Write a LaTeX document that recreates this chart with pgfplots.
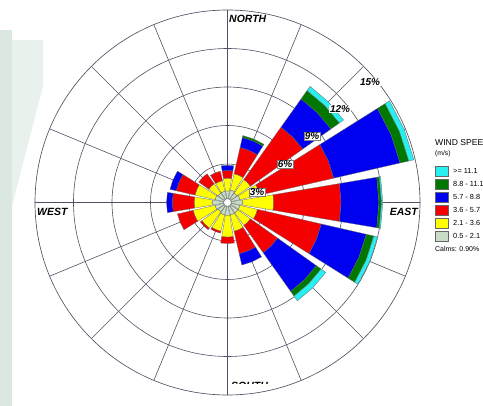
\documentclass[border=0pt]{standalone}
\usepackage{fontspec}
\setmainfont{Liberation Sans}
\usepackage{pgfplots}
\usepackage{pgfplotstable}
\pgfplotsset{compat=1.18}
\usepgfplotslibrary{polar}

\definecolor{cy}{RGB}{40,240,240}
\definecolor{dgr}{RGB}{0,120,0}
\definecolor{bl}{RGB}{0,0,240}
\definecolor{rd}{RGB}{245,0,0}
\definecolor{ylw}{RGB}{255,255,0}
\definecolor{calm}{RGB}{200,220,200}
\definecolor{gridc}{RGB}{80,80,100}
\definecolor{wm}{RGB}{218,232,224}

% cumulative frequency (%) at the outer edge of each speed class
% s1: 0.5-2.1, s2: 2.1-3.6, s3: 3.6-5.7, s4: 5.7-8.8, s5: 8.8-11.1, s6: >=11.1
\pgfplotstableread{
az    s1   s2   s3   s4    s5    s6
0     0.9  1.9  2.5  2.9   2.9   2.9
22.5  1.0  2.3  4.4  5.2   5.35  5.35
45    0.9  2.2  7.2  9.9   10.7  11.1
67.5  1.0  2.6  8.5  13.8  14.5  14.9
90    1.2  3.6  8.85 11.8  12.0  12.1
112.5 1.0  2.4  7.5  11.1  11.7  12.0
135   1.0  2.2  4.8  8.5   8.95  9.4
157.5 1.0  2.3  4.1  5.0   5.0   5.0
180   1.0  2.7  3.2  3.2   3.2   3.2
202.5 1.0  2.3  2.45 2.45  2.45  2.45
225   0.9  2.45 2.6  2.6   2.6   2.6
247.5 1.0  2.75 4.0  4.0   4.0   4.0
270   1.2  2.6  4.3  4.75  4.75  4.75
292.5 1.0  2.6  4.1  4.6   4.6   4.6
315   0.9  1.8  2.75 2.75  2.75  2.75
337.5 0.9  1.75 2.5  2.5   2.5   2.5
}\rose

\newcommand\sector[4]{%
  \pgfmathsetmacro\ta{#1-9.6}%
  \pgfmathsetmacro\tb{#1+9.6}%
  \edef\tmp{\noexpand\addplot[draw=black!60, line width=0.3pt, fill=#4] coordinates {(\ta,#3) (#1,#3) (\tb,#3) (\tb,#2) (#1,#2) (\ta,#2) (\ta,#3)};}%
  \tmp}

\newcommand\band[2]{%
  \pgfplotstablegetelem{\i}{#1}\of\rose
  \let\rout\pgfplotsretval
  \ifdim\rout pt>\rin pt\relax \sector{\th}{\rin}{\rout}{#2}\fi
  \let\rin\rout}

\begin{document}
\begin{tikzpicture}
\useasboundingbox (0,0) rectangle (483bp,406bp);
\fill[wm] (0,0) rectangle (12bp,376bp);
\fill[wm!60] (12bp,366bp) -- (43bp,366bp) -- (43bp,320bp) -- (12bp,200bp) -- cycle;

\begin{polaraxis}[
  at={(227.5bp,203.5bp)}, anchor=center,
  scale only axis, width=385bp, height=385bp,
  xmin=0, xmax=360, ymin=0, ymax=15,
  xtick={0,22.5,...,337.5}, ytick={3,6,9,12},
  xticklabels={}, yticklabels={},
  grid=major, major tick length=0pt,
  grid style={draw=gridc, line width=0.6pt},
  axis line style={draw=gridc, line width=0.65pt},
]
\pgfplotsforeachungrouped \i in {0,...,15}{%
  \pgfplotstablegetelem{\i}{az}\of\rose
  \pgfmathsetmacro\th{450-\pgfplotsretval}%
  \def\rin{0.3}%
  \band{s1}{calm}\band{s2}{ylw}\band{s3}{rd}\band{s4}{bl}\band{s5}{dgr}\band{s6}{cy}%
}
\end{polaraxis}

\draw[fill=white, draw=black!60, line width=0.3pt] (227.5bp,203.5bp) circle (3.8bp);

% compass labels
\begin{scope}[every node/.style={font=\fontsize{10.5}{10.5}\selectfont\bfseries\itshape, inner sep=0pt}]
\node[anchor=west] at (229bp,387bp) {NORTH};
\node[anchor=west] at (37bp,194bp) {WEST};
\node[anchor=east] at (418bp,194bp) {EAST};
\begin{scope}
\clip (200bp,22bp) rectangle (300bp,40bp);
\node[anchor=west] at (231bp,20bp) {SOUTH};
\end{scope}
\end{scope}

% percent labels
\begin{scope}[every node/.style={font=\fontsize{10}{10}\selectfont\bfseries\itshape, fill=white, inner sep=0.6pt}]
\node[draw=black!50, line width=0.3pt] at (257bp,214bp) {3\%};
\node[draw=black!50, line width=0.3pt] at (285bp,242bp) {6\%};
\node[draw=black!50, line width=0.3pt] at (312bp,270bp) {9\%};
\node at (340bp,297bp) {12\%};
\node at (370bp,324bp) {15\%};
\end{scope}

% legend
\node[anchor=west, inner sep=0pt, font=\fontsize{8.6}{8.6}\selectfont] at (435bp,263bp) {WIND SPEED};
\node[anchor=west, inner sep=0pt, font=\fontsize{6.8}{6.8}\selectfont] at (435bp,252bp) {(m/s)};
\foreach \yy/\cc/\tt in {235/cy/{>= 11.1}, 222/dgr/{8.8 - 11.1}, 209/bl/{5.7 - 8.8}, 196/rd/{3.6 - 5.7}, 183/ylw/{2.1 - 3.6}, 170/calm/{0.5 - 2.1}}{
  \draw[black!60, line width=0.3pt, fill=\cc] (435bp,\yy bp-5bp) rectangle (448bp,\yy bp+5bp);
  \node[anchor=west, inner sep=0pt, font=\fontsize{7.4}{7.4}\selectfont] at (453bp,\yy bp) {\tt};
}
\node[anchor=west, inner sep=0pt, font=\fontsize{7}{7}\selectfont] at (435bp,157bp) {Calms: 0.90\%};
\end{tikzpicture}
\end{document}
